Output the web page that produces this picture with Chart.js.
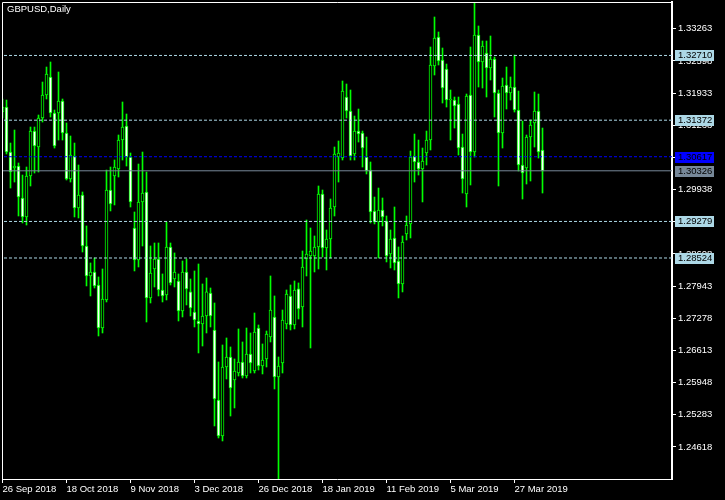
<!DOCTYPE html>
<html><head><meta charset="utf-8">
<script src="https://cdn.jsdelivr.net/npm/chart.js@4.4.1/dist/chart.umd.min.js"></script>
<style>html,body{margin:0;padding:0;background:#000;}canvas{display:block;}</style>
</head><body>
<canvas id="c" width="725" height="500"></canvas>
<script>
const symbolTitle = 'GBPUSD,Daily';
const opens = [
1.31541,1.31644,1.30714,1.30384,1.30425,1.29764,1.29372,1.30218,1.31148,1.30818,
1.31417,1.31893,1.32265,1.3152,1.3152,1.31768,1.31107,1.30156,1.30632,1.29558,
1.29826,1.28772,1.28152,1.28235,1.27966,1.27077,1.27656,1.29929,1.30218,1.30363,
1.30962,1.31252,1.30611,1.29144,1.28483,1.29682,1.29888,1.27698,1.28297,1.28503,
1.27863,1.2776,1.28752,1.2809,1.28049,1.27429,1.28235,1.27822,1.27408,1.27222,
1.2716,1.27325,1.27801,1.27036,1.25589,1.24845,1.26271,1.26478,1.26003,1.26147,
1.26375,1.26085,1.2654,1.26189,1.27077,1.26292,1.26437,1.26891,1.27305,1.26065,
1.26354,1.2716,1.27739,1.27139,1.27884,1.27511,1.28503,1.28566,1.28566,1.28752,
1.29846,1.28731,1.28917,1.29578,1.30611,1.3059,1.31851,1.31562,1.30673,1.31148,
1.31107,1.30611,1.30342,1.29496,1.29268,1.29516,1.29289,1.28607,1.28938,1.28462,
1.27987,1.2902,1.29227,1.30632,1.30508,1.30363,1.30694,1.30962,1.32492,1.33091,
1.32616,1.3243,1.31789,1.31789,1.31706,1.30818,1.29846,1.31893,1.30714,1.33133,
1.32575,1.32761,1.32451,1.32637,1.31934,1.31107,1.32099,1.31934,1.32058,1.31582,
1.30446,1.30384,1.31024,1.31314,1.31562,1.30756];
const highs = [
1.3181,1.31789,1.309,1.31169,1.30487,1.30239,1.30404,1.31231,1.31231,1.31479,
1.32161,1.32471,1.32575,1.31582,1.32368,1.3181,1.31314,1.31045,1.309,1.30446,
1.29888,1.29186,1.28421,1.28524,1.28132,1.28297,1.30342,1.30404,1.30549,1.31066,
1.31748,1.315,1.30694,1.29475,1.30466,1.30714,1.30301,1.28772,1.28834,1.28834,
1.28194,1.29268,1.28834,1.28628,1.28194,1.28462,1.28503,1.2809,1.28256,1.284,
1.27987,1.28111,1.27904,1.27594,1.26375,1.26726,1.26871,1.26685,1.26437,1.27057,
1.26788,1.27077,1.26974,1.27387,1.27139,1.26747,1.27015,1.28152,1.27739,1.26478,
1.27449,1.27863,1.27966,1.28049,1.28008,1.28669,1.2931,1.29144,1.28979,1.30012,
1.29929,1.29103,1.29743,1.30818,1.30942,1.32182,1.3212,1.31996,1.31458,1.31603,
1.31148,1.31024,1.30508,1.29784,1.2997,1.29764,1.29392,1.29103,1.29578,1.28752,
1.28979,1.29392,1.30735,1.31086,1.30962,1.30797,1.31148,1.32885,1.33505,1.33195,
1.32864,1.32533,1.31996,1.31851,1.31851,1.31086,1.31913,1.32885,1.33794,1.33319,
1.33009,1.33009,1.33112,1.32678,1.31996,1.32244,1.32471,1.32265,1.32719,1.31975,
1.31355,1.31066,1.31376,1.31955,1.31913,1.3121];
const lows = [
1.31417,1.30673,1.2997,1.30094,1.29392,1.29248,1.29206,1.30012,1.3028,1.30301,
1.31334,1.3181,1.31438,1.30797,1.30962,1.30962,1.30136,1.30094,1.29372,1.29351,
1.28648,1.27946,1.27739,1.27904,1.26912,1.26974,1.27615,1.29496,1.2962,1.30198,
1.30549,1.30425,1.29578,1.28256,1.28338,1.28772,1.27201,1.27594,1.27925,1.27739,
1.27615,1.27656,1.27966,1.27925,1.27222,1.27305,1.27553,1.27325,1.27098,1.26561,
1.26705,1.26974,1.27098,1.25052,1.24804,1.24742,1.26023,1.25258,1.25424,1.26085,
1.26044,1.26044,1.26147,1.26147,1.26209,1.26127,1.26271,1.26788,1.25817,1.23956,
1.26147,1.27057,1.27036,1.27057,1.27263,1.27098,1.28152,1.26664,1.28235,1.28297,
1.28545,1.28276,1.28524,1.29392,1.30094,1.30549,1.31417,1.30549,1.30549,1.30921,
1.30404,1.3026,1.29248,1.29227,1.28524,1.29186,1.28442,1.28318,1.28276,1.27698,
1.27822,1.28896,1.28938,1.30094,1.30239,1.29682,1.30446,1.30756,1.32306,1.32513,
1.31727,1.31644,1.30962,1.3121,1.30652,1.29867,1.29578,1.30033,1.30611,1.32058,
1.32037,1.31851,1.32203,1.31438,1.30012,1.30797,1.31603,1.31789,1.31541,1.30322,
1.29743,1.30053,1.30115,1.30818,1.3059,1.29867];
const closes = [
1.31644,1.30714,1.30301,1.30425,1.29784,1.29372,1.30218,1.31148,1.30838,1.31417,
1.31893,1.32327,1.3152,1.30838,1.31768,1.31107,1.30156,1.30652,1.29558,1.29826,
1.28772,1.28152,1.28235,1.27946,1.27077,1.27677,1.29929,1.2964,1.30404,1.30962,
1.31231,1.30611,1.29682,1.28483,1.29682,1.29867,1.27698,1.28214,1.28503,1.27863,
1.27739,1.28752,1.28008,1.28235,1.27429,1.28235,1.27884,1.27491,1.27243,1.2716,
1.27325,1.27822,1.27325,1.2561,1.24845,1.26271,1.26478,1.25837,1.26189,1.26375,
1.26085,1.2654,1.26354,1.26995,1.26292,1.26416,1.26953,1.27449,1.26065,1.26292,
1.27243,1.2778,1.27139,1.27863,1.2747,1.28338,1.28607,1.28669,1.28752,1.29846,
1.28731,1.28917,1.29558,1.30673,1.30694,1.31975,1.31562,1.30632,1.31148,1.31086,
1.30797,1.30322,1.29475,1.29268,1.29516,1.29372,1.28566,1.28917,1.28421,1.27987,
1.28855,1.29206,1.30611,1.30508,1.30363,1.30528,1.30962,1.32513,1.33071,1.32595,
1.32037,1.31789,1.3181,1.31665,1.30797,1.30156,1.31872,1.30714,1.33133,1.32575,
1.32905,1.32451,1.32637,1.31934,1.31107,1.32079,1.31934,1.32058,1.31582,1.30446,
1.3028,1.31024,1.31272,1.31562,1.30714,1.30326];
const dateTickIndex = [0,16,32,48,64,80,96,112,128];
const dateTickLabels = ['26 Sep 2018','18 Oct 2018','9 Nov 2018','3 Dec 2018','26 Dec 2018','18 Jan 2019','11 Feb 2019','5 Mar 2019','27 Mar 2019'];
const priceTicks = [1.24618,1.25283,1.25948,1.26613,1.27278,1.27943,1.28608,1.29273,1.29938,1.30603,1.31268,1.31933,1.32598,1.33263];
const levelLines = [1.32710,1.31372,1.29279,1.28524];
const askLevel = 1.30617;
const bidLevel = 1.30326;
const priceMin = 1.23956, priceMax = 1.33815;
const barMin = -0.125, barMax = 167.375;

const FAMILY = '"Liberation Sans", Arial, sans-serif';
const FSIZE = 9.5;
const FONT = FSIZE + 'px ' + FAMILY;
const idx = opens.map((_, i) => i);
const wickData = idx.map(i => ({x: i, y: [lows[i], highs[i]]}));
const bodyData = idx.map(i => ({x: i, y: [opens[i], closes[i]]}));
const bodyFill = idx.map(i => closes[i] < opens[i] ? '#ffffff' : '#000000');

function hline(v, color, dash) {
  return {type: 'line', data: [{x: barMin - 2, y: v}, {x: barMax + 2, y: v}], borderColor: color,
    borderWidth: 1, borderDash: dash, pointRadius: 0, order: 0};
}

const overlay = {
  id: 'overlay',
  afterDraw(chart) {
    const {ctx, chartArea: a, scales: {y}} = chart;
    ctx.save();
    ctx.strokeStyle = '#ffffff'; ctx.lineWidth = 1;
    ctx.beginPath();
    ctx.moveTo(a.left + 0.5, a.bottom);
    ctx.lineTo(a.left + 0.5, a.top + 0.5);
    ctx.lineTo(a.right, a.top + 0.5);
    ctx.stroke();
    ctx.font = FONT; ctx.textBaseline = 'middle'; ctx.textAlign = 'left';
    ctx.fillStyle = '#ffffff';
    ctx.fillText(symbolTitle, 7, 9.5);
    const boxes = levelLines.map(v => ({v, bg: '#add8e6'}))
      .concat([{v: askLevel, bg: '#0000ff'}, {v: bidLevel, bg: '#778899'}]);
    boxes.forEach(b => {
      const py = Math.round(y.getPixelForValue(b.v));
      ctx.fillStyle = b.bg;
      ctx.fillRect(a.right + 3, py - 5, 39, 11);
      ctx.fillStyle = '#000000';
      ctx.fillText(b.v.toFixed(5), a.right + 6, py + 0.5);
    });
    ctx.restore();
  }
};

function noPad(s) { s.paddingTop = 0; s.paddingBottom = 0; s.paddingLeft = 0; s.paddingRight = 0; }

new Chart(document.getElementById('c'), {
  type: 'bar',
  data: {
    datasets: [
      {type: 'bar', data: bodyData, backgroundColor: bodyFill, borderColor: '#00ff00', borderWidth: 1,
        borderSkipped: false, barThickness: 3, grouped: false, minBarLength: 1, order: 1},
      {type: 'bar', data: wickData, backgroundColor: '#00ff00', borderWidth: 0,
        barThickness: 1, grouped: false, order: 2},
      ...levelLines.map(v => hline(v, '#add8e6', [3, 2])),
      hline(askLevel, '#0000ff', [3, 2]),
      hline(bidLevel, '#778899', [])
    ]
  },
  options: {
    responsive: false, animation: false, devicePixelRatio: 1,
    layout: {padding: {left: 2, top: 2, right: 0, bottom: 0}},
    plugins: {legend: {display: false}, tooltip: {enabled: false}, title: {display: false}},
    scales: {
      x: {
        type: 'linear', position: 'bottom', min: barMin, max: barMax, offset: false,
        afterFit: s => { s.height = 21; noPad(s); },
        afterBuildTicks: s => { s.ticks = dateTickIndex.map(v => ({value: v})); },
        ticks: {
          callback: v => { const k = dateTickIndex.indexOf(v); return k >= 0 ? dateTickLabels[k] : ''; },
          color: '#ffffff', font: {family: FAMILY, size: FSIZE},
          align: 'start', maxRotation: 0, minRotation: 0, autoSkip: false, padding: 1
        },
        grid: {display: true, drawOnChartArea: false, drawTicks: true, tickLength: 4, color: '#ffffff', offset: false},
        border: {display: true, color: '#ffffff', width: 1}
      },
      y: {
        type: 'linear', position: 'right', min: priceMin, max: priceMax,
        afterFit: s => { s.width = 53; noPad(s); },
        afterBuildTicks: s => { s.ticks = priceTicks.map(v => ({value: v})); },
        ticks: {
          callback: v => Number(v).toFixed(5), color: '#ffffff',
          font: {family: FAMILY, size: FSIZE}, autoSkip: false, padding: 2
        },
        grid: {display: true, drawOnChartArea: false, drawTicks: true, tickLength: 4, color: '#ffffff'},
        border: {display: true, color: '#ffffff', width: 2}
      }
    }
  },
  plugins: [overlay]
});
</script>
</body></html>
